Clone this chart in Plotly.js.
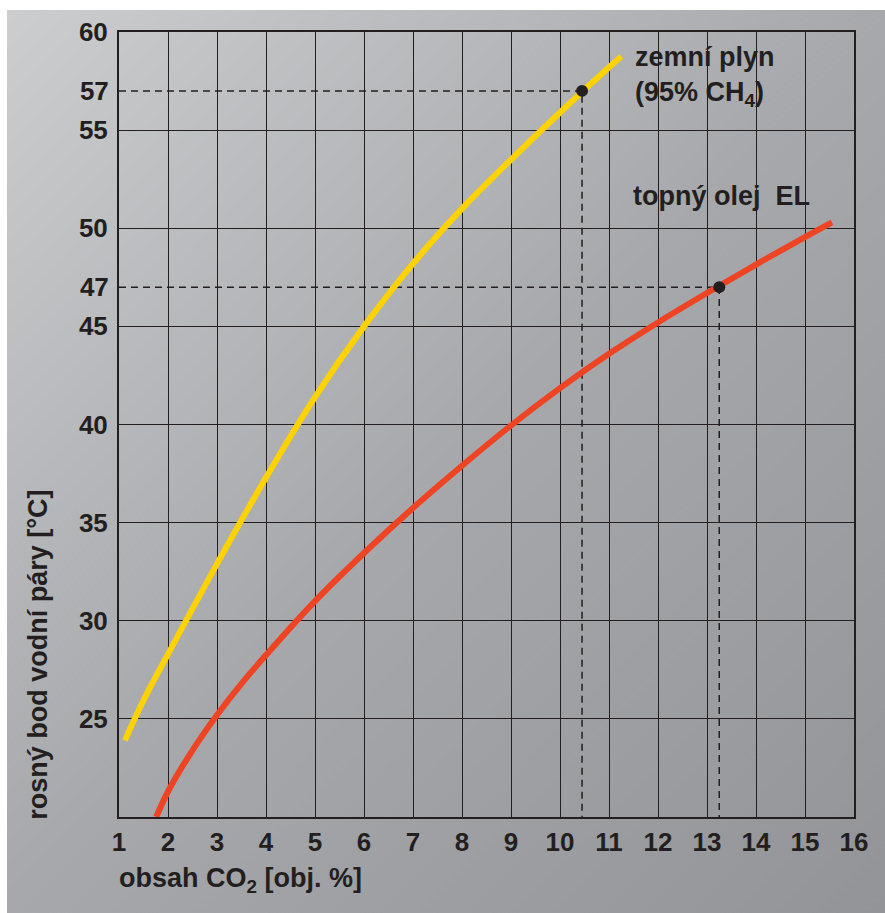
<!DOCTYPE html>
<html>
<head>
<meta charset="utf-8">
<script src="https://cdn.plot.ly/plotly-3.0.1.min.js"></script>
<style>
  html, body { margin: 0; padding: 0; background: #ffffff; }
  #wrap { position: relative; width: 885px; height: 913px; overflow: hidden; }
  #panel {
    position: absolute; left: 7px; top: 10px; width: 878px; height: 903px;
    background: linear-gradient(135deg, #cbcdcf 0%, #a6a8ab 50%, #929497 100%);
  }
  #chart { position: absolute; left: 0; top: 0; width: 885px; height: 913px; }
</style>
</head>
<body>
<div id="wrap"><div id="panel"></div><div id="chart"></div></div>
<script>
// Dew point of water vapour in flue gas vs. CO2 content
const gasCo2      = [1.12, 1.5, 2, 3, 4, 5, 6, 7, 8, 9, 10, 11, 11.25];
const gasDewPoint = [23.9, 25.95, 28.3, 32.9, 37.3, 41.4, 45.0, 48.2, 51.0, 53.5, 55.9, 58.2, 58.75];

const oilCo2      = [1.76, 2, 2.5, 3, 3.5, 4, 5, 6, 7, 8, 9, 10, 11, 12, 13, 14, 15, 15.55];
const oilDewPoint = [20.0, 21.3, 23.4, 25.2, 26.8, 28.25, 31.0, 33.45, 35.75, 37.9, 39.95, 41.85, 43.6, 45.2, 46.7, 48.15, 49.55, 50.3];

// highlighted operating points: natural gas, heating oil
const markerCo2      = [10.45, 13.25];
const markerDewPoint = [57, 47];

const xTicks = [1, 2, 3, 4, 5, 6, 7, 8, 9, 10, 11, 12, 13, 14, 15, 16];
const yTicks = [25, 30, 35, 40, 45, 50, 55, 60];
const xRange = [1, 16];
const yRange = [20, 60];

const ink = '#231f20';
const family = 'Liberation Sans, Arial, Helvetica, sans-serif';
const tickFont = { family: family, size: 26, color: ink, weight: 'bold' };
const labelFont = { family: family, size: 27, color: ink, weight: 'bold' };

// dashed guide from the y axis to a point and down to the x axis
function guide(i) {
  return {
    type: 'scatter', mode: 'lines', hoverinfo: 'skip',
    x: [xRange[0], markerCo2[i], markerCo2[i]],
    y: [markerDewPoint[i], markerDewPoint[i], yRange[0]],
    line: { color: ink, width: 1.5, dash: '7px,5px' }
  };
}

const traces = [
  guide(0),
  guide(1),
  {
    type: 'scatter', mode: 'lines', name: 'zemní plyn',
    x: gasCo2, y: gasDewPoint,
    line: { color: '#ffd200', width: 6, shape: 'spline', smoothing: 1 }
  },
  {
    type: 'scatter', mode: 'lines', name: 'topný olej EL',
    x: oilCo2, y: oilDewPoint,
    line: { color: '#ee4423', width: 6, shape: 'spline', smoothing: 1 }
  },
  {
    type: 'scatter', mode: 'markers', yaxis: 'y2',
    x: markerCo2, y: markerDewPoint,
    marker: { color: ink, size: 12 }
  }
];

const axisCommon = {
  showgrid: true, gridcolor: ink, gridwidth: 1,
  showline: true, linecolor: ink, linewidth: 2, mirror: true,
  zeroline: false, ticks: 'outside', tickcolor: 'rgba(0,0,0,0)',
  tickfont: tickFont, fixedrange: true
};

const layout = {
  width: 885, height: 913,
  margin: { l: 119, r: 31, t: 32, b: 96 },
  paper_bgcolor: 'rgba(0,0,0,0)',
  plot_bgcolor: 'rgba(0,0,0,0)',
  showlegend: false,
  xaxis: Object.assign({}, axisCommon, {
    range: xRange, tickvals: xTicks, ticklen: 1
  }),
  yaxis: Object.assign({}, axisCommon, {
    range: yRange, tickvals: yTicks, ticklen: 4
  }),
  yaxis2: {
    overlaying: 'y', side: 'left', range: yRange,
    tickvals: markerDewPoint, ticktext: markerDewPoint.map(String),
    showgrid: false, showline: false, zeroline: false,
    ticks: 'outside', ticklen: 4, tickcolor: 'rgba(0,0,0,0)',
    tickfont: tickFont, fixedrange: true
  },
  annotations: [
    {
      text: 'rosný bod vodní páry [°C]', textangle: -90,
      xref: 'paper', yref: 'paper', x: -0.11, y: -0.006,
      xanchor: 'center', yanchor: 'bottom', showarrow: false, font: labelFont
    },
    {
      text: 'obsah CO<sub>2</sub> [obj. %]',
      xref: 'paper', yref: 'paper', x: -0.003, y: -0.080,
      xanchor: 'left', yanchor: 'middle', showarrow: false, font: labelFont
    },
    {
      text: 'zemní plyn<br>(95% CH<sub>4</sub>)', align: 'left',
      xref: 'x', yref: 'y', x: 11.48, y: 57.75,
      xanchor: 'left', yanchor: 'middle', showarrow: false, font: labelFont
    },
    {
      text: 'topný olej\u00A0\u00A0EL', align: 'left',
      xref: 'x', yref: 'y', x: 11.44, y: 51.63,
      xanchor: 'left', yanchor: 'middle', showarrow: false, font: labelFont
    }
  ]
};

Plotly.newPlot('chart', traces, layout, { displayModeBar: false, staticPlot: true });
</script>
</body>
</html>
